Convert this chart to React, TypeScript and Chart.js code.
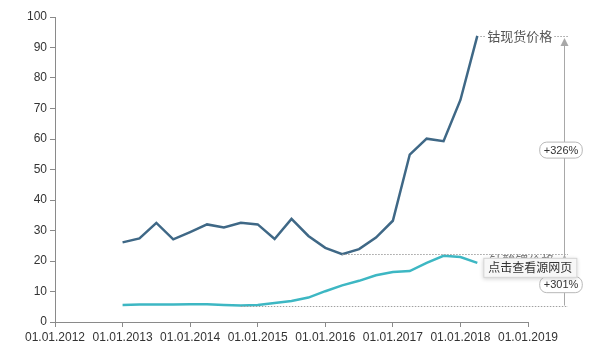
import React, { useEffect, useRef } from "react";
import { Chart, registerables } from "chart.js";

Chart.register(...registerables);

const quarters = [
  2013.0, 2013.25, 2013.5, 2013.75, 2014.0, 2014.25, 2014.5, 2014.75, 2015.0, 2015.25, 2015.5,
  2015.75, 2016.0, 2016.25, 2016.5, 2016.75, 2017.0, 2017.25, 2017.5, 2017.75, 2018.0, 2018.25,
];
const cobaltSpot = [
  26.1, 27.4, 32.5, 27.1, 29.5, 32.0, 31.0, 32.5, 32.0, 27.2, 33.8, 28.2, 24.3, 22.2, 23.9, 27.7,
  33.2, 54.9, 60.1, 59.3, 72.8, 93.8,
];
const licoo2 = [
  5.6, 5.7, 5.7, 5.7, 5.8, 5.8, 5.6, 5.4, 5.6, 6.2, 6.9, 8.0, 10.1, 12.0, 13.5, 15.3, 16.4, 16.7,
  19.4, 21.7, 21.3, 19.4,
];
const spotLabel = "钴现货价格";
const licoo2Label = "钴酸锂价格";
const spotChange = "+326%";
const licoo2Change = "+301%";
const popupText = "点击查看源网页";
const yearMin = 2012;
const yearMax = 2019;

const DARK = "#3f6886";
const TEAL = "#3db7c3";
const CJK = '"Noto Sans CJK SC", "Noto Sans", sans-serif';

function pill(ctx: CanvasRenderingContext2D, cx: number, cy: number, text: string) {
  ctx.font = '11px "Liberation Sans", Arial, sans-serif';
  const w = ctx.measureText(text).width + 8;
  const h = 16;
  const x = cx - w / 2;
  const y = cy - h / 2;
  const r = 7;
  ctx.beginPath();
  ctx.moveTo(x + r, y);
  ctx.lineTo(x + w - r, y);
  ctx.arcTo(x + w, y, x + w, y + r, r);
  ctx.lineTo(x + w, y + h - r);
  ctx.arcTo(x + w, y + h, x + w - r, y + h, r);
  ctx.lineTo(x + r, y + h);
  ctx.arcTo(x, y + h, x, y + h - r, r);
  ctx.lineTo(x, y + r);
  ctx.arcTo(x, y, x + r, y, r);
  ctx.closePath();
  ctx.fillStyle = "#ffffff";
  ctx.fill();
  ctx.strokeStyle = "#b8b8b8";
  ctx.lineWidth = 1;
  ctx.stroke();
  ctx.fillStyle = "#333";
  ctx.textAlign = "center";
  ctx.textBaseline = "middle";
  ctx.fillText(text, cx, cy + 0.5);
}

function arrowUp(ctx: CanvasRenderingContext2D, x: number, y: number) {
  ctx.beginPath();
  ctx.moveTo(x, y);
  ctx.lineTo(x - 4, y + 8);
  ctx.lineTo(x + 4, y + 8);
  ctx.closePath();
  ctx.fillStyle = "#a8a8a8";
  ctx.fill();
}

const annotations = {
  id: "annotations",
  afterDatasetsDraw(chart: any) {
    const { ctx, chartArea } = chart;
    const xs = chart.scales.x;
    const ys = chart.scales.y;
    const vx = chartArea.right + 36;
    const lineEnd = vx + 4;

    const dMin = Math.min(...cobaltSpot);
    const dMax = Math.max(...cobaltSpot);
    const dMinI = cobaltSpot.indexOf(dMin);
    const dMaxI = cobaltSpot.indexOf(dMax);
    const lMin = Math.min(...licoo2);
    const lMax = Math.max(...licoo2);
    const lMinI = licoo2.indexOf(lMin);

    const yDMin = ys.getPixelForValue(dMin);
    const yDMax = ys.getPixelForValue(dMax);
    const yLMin = ys.getPixelForValue(lMin);
    const yLMax = ys.getPixelForValue(lMax);

    ctx.save();
    ctx.strokeStyle = "#a0a0a0";
    ctx.lineWidth = 1;
    ctx.setLineDash([1.5, 1.5]);
    ctx.beginPath();
    ctx.moveTo(xs.getPixelForValue(quarters[dMinI]), Math.round(yDMin) + 0.5);
    ctx.lineTo(lineEnd, Math.round(yDMin) + 0.5);
    ctx.moveTo(xs.getPixelForValue(quarters[lMinI]), Math.round(yLMin) + 0.5);
    ctx.lineTo(lineEnd, Math.round(yLMin) + 0.5);
    ctx.stroke();

    // leader & label for spot price
    const xEnd = xs.getPixelForValue(quarters[dMaxI]);
    ctx.font = `13px ${CJK}`;
    const tw = ctx.measureText(spotLabel).width;
    const tx = xEnd + 10;
    ctx.beginPath();
    ctx.moveTo(xEnd + 3, Math.round(yDMax) + 0.5);
    ctx.lineTo(tx - 2, Math.round(yDMax) + 0.5);
    ctx.moveTo(tx + tw + 2, Math.round(yDMax) + 0.5);
    ctx.lineTo(vx + 4, Math.round(yDMax) + 0.5);
    ctx.stroke();
    ctx.setLineDash([]);
    ctx.fillStyle = "#555";
    ctx.textAlign = "left";
    ctx.textBaseline = "middle";
    ctx.fillText(spotLabel, tx, yDMax);

    // vertical arrow line
    ctx.strokeStyle = "#a8a8a8";
    ctx.beginPath();
    ctx.moveTo(vx + 0.5, yDMax + 4);
    ctx.lineTo(vx + 0.5, yLMin);
    ctx.stroke();
    arrowUp(ctx, vx + 0.5, yDMax + 2);
    arrowUp(ctx, vx + 0.5, yLMax - 1);

    pill(ctx, vx - 3, (yDMax + yDMin) / 2 + 5, spotChange);

    // label for LiCoO2 (mostly covered by the popup)
    const lx = xs.getPixelForValue(quarters[quarters.length - 1]);
    const ly = ys.getPixelForValue(licoo2[licoo2.length - 1]);
    ctx.font = `13px ${CJK}`;
    ctx.fillStyle = "#777";
    ctx.textAlign = "left";
    ctx.textBaseline = "middle";
    ctx.fillText(licoo2Label, lx + 12, ly - 3);

    pill(ctx, vx - 3, (yLMax + yLMin) / 2 + 4, licoo2Change);

    // popup box
    ctx.font = `12px ${CJK}`;
    ctx.textAlign = "left";
    ctx.textBaseline = "middle";
    const pw = ctx.measureText(popupText).width + 10;
    const px = lx + 6;
    const py = ly - 5;
    ctx.shadowColor = "rgba(0,0,0,0.18)";
    ctx.shadowBlur = 4;
    ctx.shadowOffsetY = 1;
    ctx.fillStyle = "#f7f7f7";
    ctx.fillRect(px, py, pw, 20);
    ctx.shadowColor = "transparent";
    ctx.strokeStyle = "#d4d4d4";
    ctx.strokeRect(px + 0.5, py + 0.5, pw - 1, 19);
    ctx.fillStyle = "#333";
    ctx.fillText(popupText, px + 5, py + 10);
    ctx.restore();
  },
};

export default function App() {
  const ref = useRef<HTMLCanvasElement>(null);
  useEffect(() => {
    if (!ref.current) return;
    const tickFont = { family: '"Liberation Sans", Arial, sans-serif', size: 12 };
    const chart = new Chart(ref.current, {
      type: "line",
      data: {
        datasets: [
          {
            label: spotLabel,
            data: quarters.map((q, i) => ({ x: q, y: cobaltSpot[i] })),
            borderColor: DARK,
            borderWidth: 2.5,
            pointRadius: 0,
            tension: 0,
          },
          {
            label: licoo2Label,
            data: quarters.map((q, i) => ({ x: q, y: licoo2[i] })),
            borderColor: TEAL,
            borderWidth: 2.5,
            pointRadius: 0,
            tension: 0,
          },
        ],
      },
      options: {
        animation: false,
        responsive: true,
        maintainAspectRatio: false,
        layout: { padding: { left: 0, right: 82, top: 17, bottom: 0 } },
        plugins: { legend: { display: false }, tooltip: { enabled: false } },
        scales: {
          x: {
            type: "linear",
            min: yearMin,
            max: yearMax,
            afterFit: (s: any) => {
              s.height = 33;
            },
            ticks: {
              stepSize: 1,
              autoSkip: false,
              maxRotation: 0,
              padding: 3,
              color: "#333",
              font: tickFont,
              callback: (v: any) => "01.01." + v,
            },
            grid: { drawOnChartArea: false, drawTicks: true, tickLength: 5, color: "#8a8a8a" },
            border: { color: "#8a8a8a" },
          },
          y: {
            min: 0,
            max: 100,
            afterFit: (s: any) => {
              s.width = 55;
            },
            ticks: { stepSize: 10, padding: 3, color: "#333", font: tickFont },
            grid: { drawOnChartArea: false, drawTicks: true, tickLength: 5, color: "#8a8a8a" },
            border: { color: "#8a8a8a" },
          },
        },
      },
      plugins: [annotations],
    } as any);
    return () => chart.destroy();
  }, []);
  return (
    <div style={{ position: "fixed", left: 0, top: 0, width: 610, height: 355, background: "#fff" }}>
      <canvas ref={ref} />
    </div>
  );
}
